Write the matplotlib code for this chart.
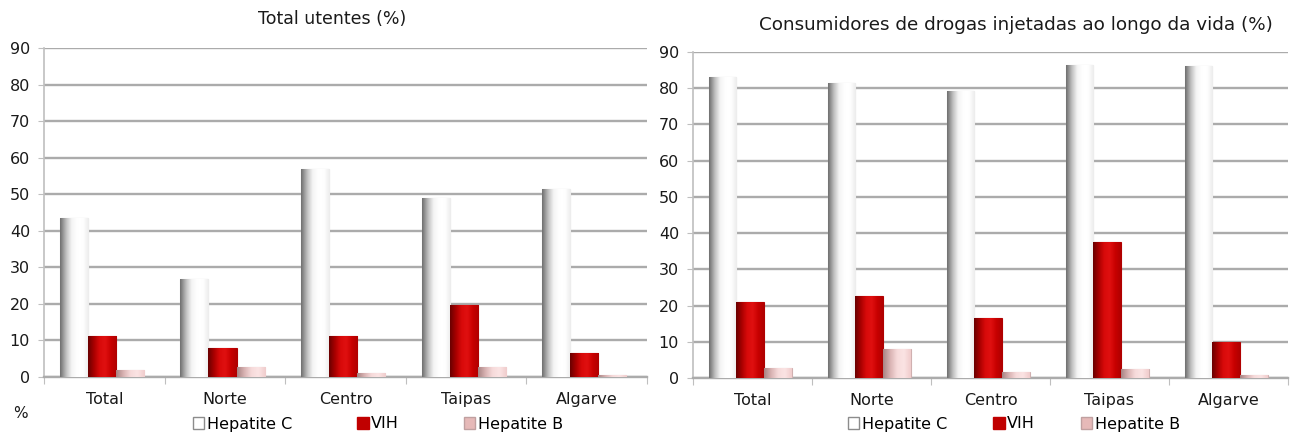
import matplotlib
matplotlib.use("Agg")
import matplotlib.pyplot as plt
import numpy as np
from matplotlib.colors import LinearSegmentedColormap
from matplotlib.patches import Patch

plt.rcParams['font.family'] = ['DejaVu Sans']

# dados
regioes = ["Total", "Norte", "Centro", "Taipas", "Algarve"]
series = ["Hepatite C", "VIH", "Hepatite B"]

utentes_hepc = [43.4, 26.8, 56.9, 48.9, 51.4]
utentes_vih = [11.2, 7.9, 11.1, 19.7, 6.5]
utentes_heph = [2.0, 2.8, 1.0, 2.8, 0.6]

udi_hepc = [83.2, 81.5, 79.3, 86.5, 86.0]
udi_vih = [21.0, 22.6, 16.5, 37.6, 9.9]
udi_heph = [2.7, 8.0, 1.7, 2.4, 0.7]

titulo_esq = "Total utentes (%)"
titulo_dir = "Consumidores de drogas injetadas ao longo da vida (%)"

# gradientes para imitar o efeito 3D do Excel
cmaps = [
    LinearSegmentedColormap.from_list("hc", ["#6f6f6f", "#bdbdbd", "#f4f4f4", "#ffffff", "#ffffff", "#ececec"]),
    LinearSegmentedColormap.from_list("vih", ["#6a0000", "#a80000", "#d80a0a", "#e01010", "#c80000", "#b00000"]),
    LinearSegmentedColormap.from_list("hb", ["#a88484", "#d8b2b2", "#f6dada", "#fbe4e4", "#f0cccc"]),
]
edges = ["#c8c8c8", "#b00000", "#d0b0b0"]
legend_faces = ["#ffffff", "#c00000", "#e6b9b8"]
legend_edges = ["#8c8c8c", "#c00000", "#c0a0a0"]

W, H = 1290, 437
fig = plt.figure(figsize=(W / 100, H / 100), dpi=100)

grad = np.linspace(0, 1, 64).reshape(1, -1)


def painel(rect, dados, titulo, title_xy, title_size):
    ax = fig.add_axes(rect)
    x = np.arange(len(regioes))
    w = 0.233
    for i, vals in enumerate(dados):
        bars = ax.bar(x + (i - 1) * w - 0.02, vals, w, color="white",
                      edgecolor=edges[i], linewidth=0.8, zorder=3)
        for b in bars:
            im = ax.imshow(grad, cmap=cmaps[i], aspect="auto",
                           extent=[b.get_x(), b.get_x() + b.get_width(), 0, b.get_height()],
                           zorder=3.5, interpolation="bicubic")
            im.set_clip_path(b)
    ax.set_xlim(-0.5, len(regioes) - 0.5)
    ax.set_ylim(0, 90)
    ax.set_yticks(range(0, 91, 10))
    ax.yaxis.grid(True, color="#ababab", linewidth=1.7, zorder=0)
    ax.set_axisbelow(True)
    for s in ["top", "right"]:
        ax.spines[s].set_visible(False)
    ax.spines["left"].set_color("#bfbfbf")
    ax.spines["left"].set_linewidth(1.2)
    ax.spines["bottom"].set_color("#ababab")
    ax.spines["bottom"].set_linewidth(1.7)
    ax.tick_params(axis="y", length=4, color="#bfbfbf", labelsize=11.5, pad=6, labelcolor="#1a1a1a")
    ax.set_xticks(np.arange(len(regioes) + 1) - 0.5)
    ax.set_xticklabels([])
    ax.tick_params(axis="x", which="major", length=5, color="#bfbfbf")
    ax.set_xticks(x, minor=True)
    ax.set_xticklabels(regioes, minor=True, fontsize=11.5, color="#1a1a1a")
    ax.tick_params(axis="x", which="minor", length=0, pad=11)
    fig.text(title_xy[0] / W, 1 - title_xy[1] / H, titulo, ha="center", va="center",
             fontsize=title_size, color="#1a1a1a")
    return ax


ax1 = painel([44 / W, 1 - 377 / H, 603 / W, 329 / H],
             [utentes_hepc, utentes_vih, utentes_heph], titulo_esq, (332, 19), 12.5)
ax2 = painel([693 / W, 1 - 378 / H, 595 / W, 326 / H],
             [udi_hepc, udi_vih, udi_heph], titulo_dir, (1016, 25), 13.2)

fig.text(20 / W, 1 - 413 / H, "%", ha="center", va="center", fontsize=11, color="#1a1a1a")

handles = [Patch(facecolor=legend_faces[i], edgecolor=legend_edges[i], label=series[i])
           for i in range(3)]
for cx, sp in ((378, 4.1), (1014, 2.9)):
    fig.legend(handles=handles, loc="center", bbox_to_anchor=(cx / W, 1 - 424 / H),
               ncol=3, frameon=False, fontsize=11.5, handlelength=0.7, handleheight=0.7,
               handletextpad=0.15, columnspacing=sp, borderpad=0)

fig.savefig("out.png", dpi=100)
